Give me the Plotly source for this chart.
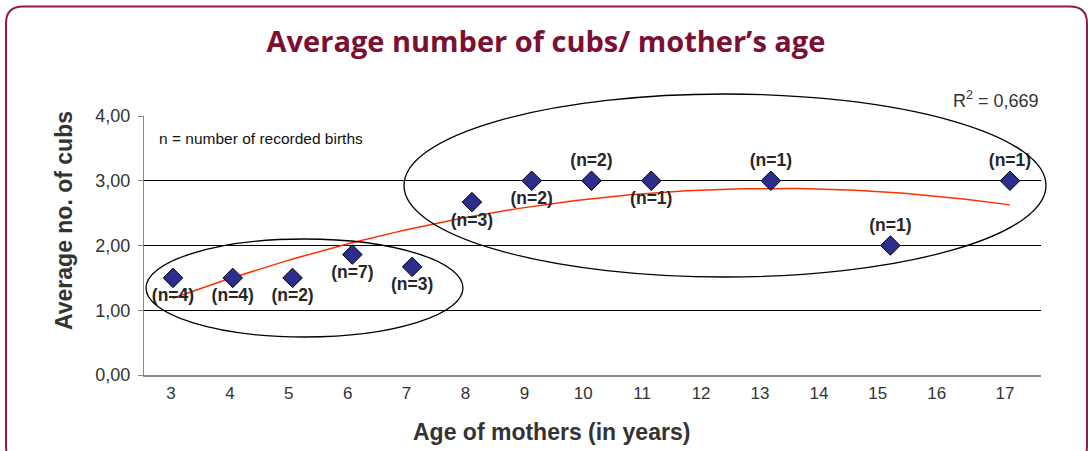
import numpy as np
import plotly.graph_objects as go

# data
ages = [3, 4, 5, 6, 7, 8, 9, 10, 11, 13, 15, 17]
avg_cubs = [1.5, 1.5, 1.5, 1.86, 1.67, 2.67, 3.0, 3.0, 3.0, 3.0, 2.0, 3.0]
n_births = [4, 4, 2, 7, 3, 3, 2, 2, 1, 1, 1, 1]
label_pos = ['bottom center'] * 7 + ['top center', 'bottom center', 'top center', 'top center', 'top center']

tick_labels = ['3', '4', '5', '6', '7', '8', '9', '10', '11', '12', '13', '14', '15', '16', '17']
tick_pos = [3, 4, 5, 6, 7, 8, 9, 10, 11, 12, 13, 14, 15, 16, 17.16]
y_ticks = [0, 1, 2, 3, 4]

FONT = 'Liberation Sans, Arial, sans-serif'
TXT = '#333333'
W, H = 1088, 451
L, R, T, B = 144, 1041, 116, 375   # plot area in pixels


def px(x):
    return (x - L) / (R - L)


def py(y):
    return (B - y) / (B - T)


# 2nd order polynomial trendline (as in the original spreadsheet chart)
coef = np.polyfit(ages, avg_cubs, 2)
trend_x = np.linspace(min(ages), max(ages), 120)
trend_y = np.polyval(coef, trend_x)

fig = go.Figure()
fig.add_trace(go.Scatter(x=trend_x, y=trend_y, mode='lines',
                         line=dict(color='#FF3000', width=1.5), hoverinfo='skip'))
fig.add_trace(go.Scatter(
    x=ages, y=avg_cubs, mode='markers+text',
    text=[f'(n={n})' for n in n_births], textposition=label_pos,
    textfont=dict(family=FONT, size=17.5, color='#262626', weight='bold'),
    marker=dict(symbol='diamond', size=15, color='#2B2E8C', line=dict(color='#000000', width=1)),
))
# invisible trace to carry the tick-label axis
fig.add_trace(go.Scatter(x=[3], y=[0], xaxis='x2', mode='markers', marker=dict(opacity=0),
                         hoverinfo='skip'))


def rounded_rect(x0, y0, x1, y1, r):
    # pixel coords -> paper path
    pts = [
        f'M {px(x0 + r)} {py(y0)}',
        f'L {px(x1 - r)} {py(y0)}',
        f'Q {px(x1)} {py(y0)} {px(x1)} {py(y0 + r)}',
        f'L {px(x1)} {py(y1 - r)}',
        f'Q {px(x1)} {py(y1)} {px(x1 - r)} {py(y1)}',
        f'L {px(x0 + r)} {py(y1)}',
        f'Q {px(x0)} {py(y1)} {px(x0)} {py(y1 - r)}',
        f'L {px(x0)} {py(y0 + r)}',
        f'Q {px(x0)} {py(y0)} {px(x0 + r)} {py(y0)} Z',
    ]
    return ' '.join(pts)


shapes = [
    dict(type='path', xref='paper', yref='paper', path=rounded_rect(6, 6.5, 1087, 463, 17),
         line=dict(color='#8A1E44', width=2)),
    dict(type='circle', xref='paper', yref='paper', x0=px(146), x1=px(463), y0=py(337), y1=py(239),
         line=dict(color='#000000', width=1.3)),
    dict(type='circle', xref='paper', yref='paper', x0=px(404), x1=px(1046), y0=py(277), y1=py(94),
         line=dict(color='#000000', width=1.3)),
]

annotations = [
    dict(text='n = number of recorded births', xref='paper', yref='paper', x=px(157), y=py(138),
         xanchor='left', yanchor='middle', showarrow=False, font=dict(family=FONT, size=15.5, color='#111111')),
    dict(text='R<sup>2</sup> = 0,669', xref='paper', yref='paper', x=px(1041), y=py(100),
         xanchor='right', yanchor='middle', showarrow=False, font=dict(family=FONT, size=18, color=TXT)),
    dict(text='<b>Average no. of cubs</b>', xref='paper', yref='paper', x=px(64), y=py(221),
         textangle=-90, xanchor='center', yanchor='middle', showarrow=False,
         font=dict(family=FONT, size=23, color=TXT)),
    dict(text='<b>Age of mothers (in years)</b>', xref='paper', yref='paper', x=px(551), y=py(432),
         xanchor='center', yanchor='middle', showarrow=False,
         font=dict(family=FONT, size=23, color=TXT)),
]

fig.update_layout(
    width=W, height=H,
    margin=dict(l=L, r=W - R, t=T, b=H - B),
    paper_bgcolor='white', plot_bgcolor='white',
    showlegend=False,
    separators=',.',
    title=dict(text='<b>Average number of cubs/ mother’s age</b>', x=546 / W, y=1 - 42 / H,
               xanchor='center', yanchor='middle',
               font=dict(family='Open Sans, sans-serif', size=29, color='#7A1034')),
    xaxis=dict(range=[2.515, 17.519], showticklabels=False, ticks='', showgrid=False, zeroline=False,
               showline=True, linecolor='#888888', linewidth=2),
    xaxis2=dict(overlaying='x', side='bottom', anchor='y', range=[2.542, 17.771],
                tickmode='array', tickvals=tick_pos, ticktext=tick_labels, ticks='',
                showgrid=False, zeroline=False, showline=False, ticklabelstandoff=6,
                tickfont=dict(family=FONT, size=17, color=TXT)),
    yaxis=dict(range=[0, 4], tickmode='array', tickvals=y_ticks, tickformat='.2f',
               showgrid=True, gridcolor='#000000', gridwidth=1, zeroline=False,
               showline=True, linecolor='#888888', linewidth=1, ticks='outside', ticklen=5,
               tickcolor='#888888', ticklabelstandoff=4,
               tickfont=dict(family=FONT, size=18, color=TXT)),
    shapes=shapes,
    annotations=annotations,
)

fig.write_html('out.html', config={'displayModeBar': False},
               post_script="document.body.style.margin='0';")
